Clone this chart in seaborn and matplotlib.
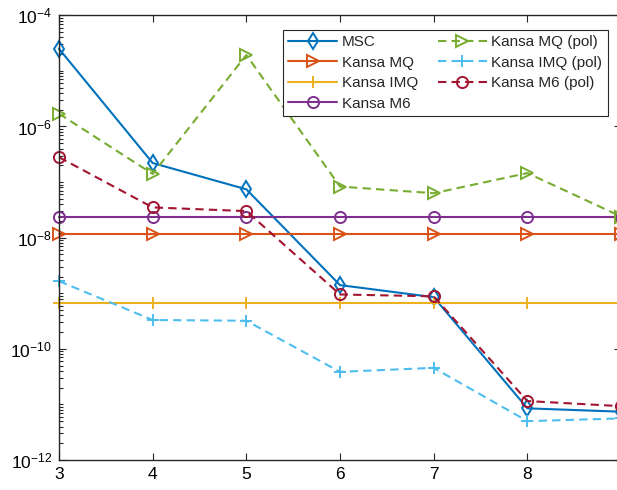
import numpy as np
import pandas as pd
import matplotlib
matplotlib.use("Agg")
import matplotlib.pyplot as plt
from matplotlib.ticker import LogLocator, FixedLocator, LogFormatterSciNotation, NullFormatter
import seaborn as sns

# Polynomial degree on the x axis
degrees = [3, 4, 5, 6, 7, 8, 9]
degree_labels = ["3", "4", "5", "6", "7", "8", ""]

# Error per method
msc = [2.5e-5, 2.2e-7, 7.4e-8, 1.4e-9, 8.5e-10, 8.5e-12, 7.4e-12]
kansa_mq = [1.17e-8] * 7
kansa_imq = [6.6e-10] * 7
kansa_m6 = [2.35e-8] * 7
kansa_mq_pol = [1.7e-6, 1.4e-7, 1.93e-5, 8.3e-8, 6.3e-8, 1.45e-7, 2.4e-8]
kansa_imq_pol = [1.65e-9, 3.3e-10, 3.2e-10, 3.85e-11, 4.55e-11, 5.0e-12, 5.6e-12]
kansa_m6_pol = [2.8e-7, 3.5e-8, 3.0e-8, 9.5e-10, 8.8e-10, 1.15e-11, 9.3e-12]

labels = ["MSC", "Kansa MQ", "Kansa IMQ", "Kansa M6",
          "Kansa MQ (pol)", "Kansa IMQ (pol)", "Kansa M6 (pol)"]
series = [msc, kansa_mq, kansa_imq, kansa_m6, kansa_mq_pol, kansa_imq_pol, kansa_m6_pol]
colors = ["#0072BD", "#D95319", "#EDB120", "#7E2F8E", "#77AC30", "#4DBEEE", "#A2142F"]
markers = ["d", ">", "+", "o", ">", "+", "o"]
msizes = [8.5, 8, 9, 8, 8, 9, 8]
styles = ["-", "-", "-", "-", "--", "--", "--"]

sns.set_style("ticks")
plt.rcParams["font.family"] = ["Liberation Sans", "DejaVu Sans"]
plt.rcParams["mathtext.fontset"] = "custom"
plt.rcParams["mathtext.rm"] = "Liberation Sans"
plt.rcParams["mathtext.it"] = "Liberation Sans:italic"

fig = plt.figure(figsize=(6.17, 4.90), dpi=100)
ax = fig.add_axes([0.0956, 0.0612, 0.911, 0.9076])

for lab, vals, c, m, ms, ls in zip(labels, series, colors, markers, msizes, styles):
    df = pd.DataFrame({"degree": degrees, "error": vals})
    sns.lineplot(data=df, x="degree", y="error", ax=ax, label=lab, color=c,
                 linestyle=ls, linewidth=1.5, marker=m, markersize=ms,
                 markerfacecolor="none", markeredgecolor=c, markeredgewidth=1.4,
                 clip_on=False)

for line in ax.get_lines():
    if line.get_linestyle() == "--":
        line.set_dashes((4, 2.5))

ax.set_yscale("log")
ax.set_xlim(3, 9)
ax.set_ylim(1e-12, 1e-4)
ax.set_xticks(degrees)
ax.set_xticklabels(degree_labels)
ax.yaxis.set_major_locator(FixedLocator([1e-12, 1e-10, 1e-8, 1e-6, 1e-4]))
ax.yaxis.set_major_formatter(LogFormatterSciNotation())
ax.yaxis.set_minor_locator(LogLocator(base=10, subs=np.arange(1, 10), numticks=100))
ax.yaxis.set_minor_formatter(NullFormatter())
ax.set_xlabel("")
ax.set_ylabel("")

for sp in ax.spines.values():
    sp.set_visible(True)
    sp.set_color("#262626")
    sp.set_linewidth(1.0)

ax.tick_params(axis="both", which="both", direction="in", top=True, right=True,
               colors="#262626", labelcolor="black", width=0.8)
ax.tick_params(axis="both", which="major", length=5, labelsize=12.5, pad=5)
ax.tick_params(axis="y", which="minor", length=3)

leg = ax.legend(ncol=2, loc="upper left", bbox_to_anchor=(0.3986, 0.967),
                fontsize=11, frameon=True, fancybox=False, framealpha=1,
                edgecolor="#262626", handlelength=3.2, handletextpad=0.3,
                labelspacing=0.42, columnspacing=1.3, borderpad=0.35,
                borderaxespad=0.0)
leg.get_frame().set_linewidth(0.8)

fig.savefig("out.png", dpi=100)
